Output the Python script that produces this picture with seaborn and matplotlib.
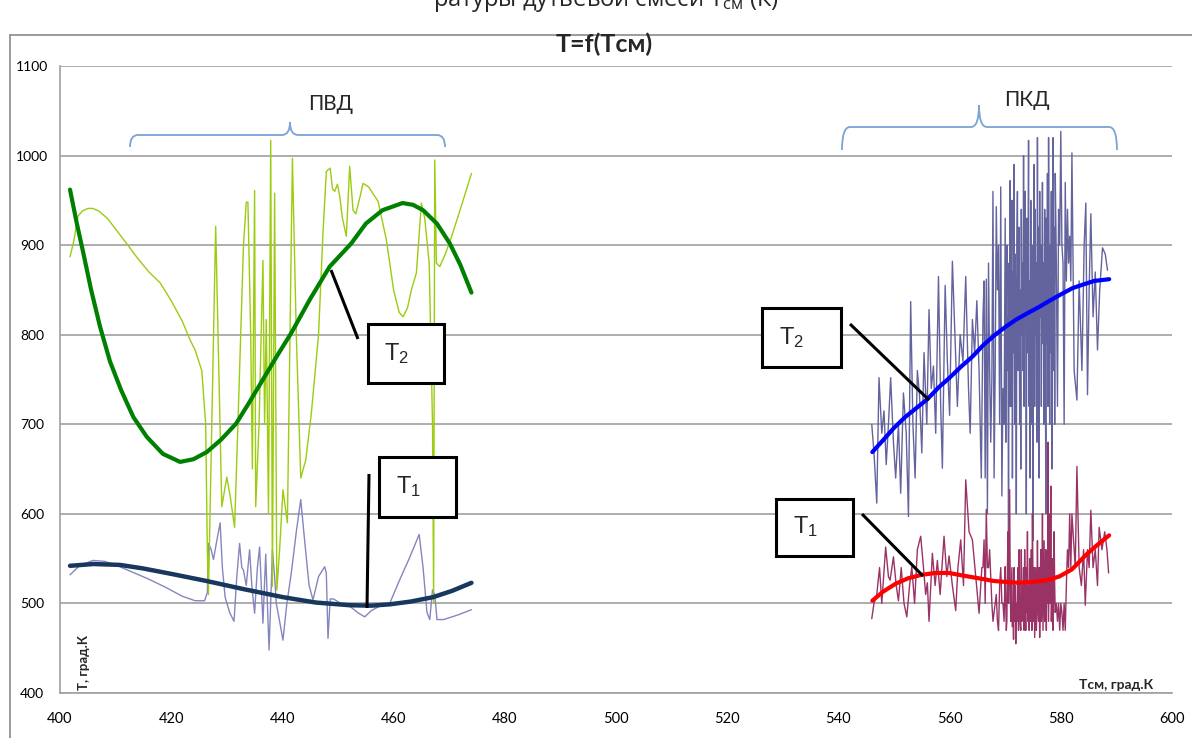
import numpy as np
import pandas as pd
import matplotlib
matplotlib.use("Agg")
import matplotlib.pyplot as plt
import seaborn as sns
from matplotlib.path import Path
from matplotlib.patches import PathPatch, Rectangle
from matplotlib.lines import Line2D

# ---------------- data ----------------
# ПВД, T2 raw (yellow-green)
pvd_t2_x = [401.8, 402.5, 403.2, 404.0, 405.0, 405.9, 407.0, 408.5, 410.0, 412.2, 414.0, 416.0, 418.0,
            420.0, 422.0, 423.4, 424.3, 425.5, 426.2, 426.5, 426.7, 427.3, 428.0, 428.6, 429.1, 430.0,
            430.6, 431.4, 432.0, 433.0, 433.5, 433.8, 434.3, 434.6, 435.0, 435.2, 435.8, 436.5, 436.8,
            437.1, 437.5, 437.9, 438.2, 438.6, 439.0, 439.5, 440.1, 440.9, 441.8, 442.5, 443.3, 444.2,
            445.2, 446.5, 447.3, 447.9, 448.2, 448.6, 449.0, 449.4, 449.9, 450.3, 450.8, 451.5, 452.1,
            452.7, 453.2, 454.0, 454.5, 455.5, 457.2, 458.7, 460.0, 461.0, 461.7, 462.5, 463.2, 464.1,
            465.0, 465.6, 466.4, 467.0, 467.2, 467.4, 467.7, 468.3, 469.3, 470.4, 472.0, 474.0]
pvd_t2_y = [887, 905, 932, 938, 941, 941, 938, 930, 918, 900, 885, 870, 858,
            838, 815, 794, 783, 760, 700, 560, 510, 700, 921, 750, 608, 641,
            620, 585, 700, 900, 948, 948, 800, 650, 961, 608, 700, 883, 700,
            817, 600, 1017, 519, 958, 515, 560, 627, 590, 997, 800, 640, 660,
            712, 800, 914, 982, 984, 986, 963, 960, 968, 955, 930, 910, 988,
            939, 935, 955, 969, 965, 949, 906, 850, 825, 820, 830, 850, 869,
            947, 930, 880, 700, 500, 995, 880, 876, 890, 909, 940, 980]

# ПВД, T1 raw (lavender)
pvd_t1_x = [401.8, 403.5, 405.9, 408.0, 410.0, 413.0, 416.0, 419.0, 422.0, 424.3, 426.0, 426.5, 426.7,
            427.2, 427.6, 428.2, 428.8, 429.2, 429.7, 430.5, 431.3, 431.8, 432.3, 432.7, 433.0, 433.5,
            434.1, 434.5, 435.0, 435.5, 435.9, 436.2, 436.5, 437.0, 437.3, 437.6, 438.0, 438.2, 438.6,
            438.9, 439.5, 440.1, 440.8, 441.6, 442.5, 443.3, 444.0, 444.8, 445.5, 446.5, 447.6, 447.9,
            448.2, 448.6, 449.2, 450.5, 452.1, 453.5, 454.8, 456.0, 457.5, 459.3, 461.0, 462.8, 464.6,
            465.3, 466.0, 466.5, 467.0, 467.4, 467.8, 469.0, 471.5, 474.0]
pvd_t1_y = [532, 542, 548, 547, 543, 535, 527, 518, 508, 503, 503, 512, 567,
            560, 549, 570, 590, 540, 507, 490, 480, 530, 567, 540, 537, 520,
            560, 520, 489, 540, 563, 520, 478, 555, 500, 448, 520, 560, 530,
            500, 480, 459, 500, 534, 580, 616, 570, 520, 504, 530, 541, 534,
            461, 505, 505, 500, 497, 490, 485, 492, 497, 500, 525, 550, 577,
            540, 490, 482, 515, 510, 482, 482, 487, 493]

# ПВД trends
pvd_t2_trend_x = [401.8, 403.0, 404.2, 405.6, 407.2, 409.0, 411.0, 413.2, 415.6, 418.5, 421.6, 424.0,
                  426.4, 429.0, 431.7, 434.0, 436.5, 439.0, 441.6, 445.0, 448.5, 452.4, 455.0, 458.0,
                  461.6, 463.5, 465.3, 467.8, 470.1, 472.0, 474.0]
pvd_t2_trend_y = [962, 925, 891, 850, 809, 770, 738, 708, 686, 667, 658, 661,
                  669, 683, 701, 724, 750, 776, 802, 840, 876, 902, 924, 939,
                  947, 945, 939, 924, 902, 878, 847]
pvd_t1_trend_x = [401.8, 406.0, 410.8, 415.0, 420.0, 426.4, 433.0, 440.1, 446.0, 452.1, 456.0, 459.3,
                  463.0, 467.1, 470.5, 474.0]
pvd_t1_trend_y = [542, 544, 543, 539, 533, 525, 516, 507, 501, 498, 497.5, 499,
                  502, 507, 514, 523]

# ПКД, T2 raw
pkd_t2_x = [546.0, 546.4, 546.9, 547.3, 547.8, 548.2, 548.6, 549.0, 549.4, 549.9, 550.3, 550.8, 551.2,
            551.7, 552.2, 552.6, 553.0, 553.4, 553.8, 554.2, 554.6, 555.0, 555.4, 555.9, 556.3, 556.7,
            557.1, 557.5, 558.0, 558.4, 558.7, 559.2, 559.6, 560.0, 560.5, 561.0, 561.4, 561.9, 562.4,
            562.9, 563.4, 563.7, 564.1, 564.5, 564.9, 565.3, 565.7,
            566.0, 566.2, 566.4, 566.6, 566.8, 567.0, 567.2, 567.4, 567.6, 567.8,
            568.0, 568.2, 568.4, 568.6, 568.8, 569.0, 569.2, 569.4, 569.6, 569.8,
            570.0, 570.1, 570.2, 570.3, 570.4, 570.5, 570.6, 570.7, 570.8, 570.9,
            571.0, 571.1, 571.2, 571.3, 571.4, 571.5, 571.6, 571.7, 571.8, 571.9,
            572.0, 572.1, 572.2, 572.3, 572.4, 572.5, 572.6, 572.7, 572.8, 572.9,
            573.0, 573.1, 573.2, 573.3, 573.4, 573.5, 573.6, 573.7, 573.8, 573.9,
            574.0, 574.1, 574.2, 574.3, 574.4, 574.5, 574.6, 574.7, 574.8, 574.9,
            575.0, 575.1, 575.2, 575.3, 575.4, 575.5, 575.6, 575.7, 575.8, 575.9,
            576.0, 576.1, 576.2, 576.3, 576.4, 576.5, 576.6, 576.7, 576.8, 576.9,
            577.0, 577.1, 577.2, 577.3, 577.4, 577.5, 577.6, 577.7, 577.8, 577.9,
            578.0, 578.1, 578.2, 578.3, 578.4, 578.5, 578.6, 578.7, 578.8, 578.9,
            579.0, 579.2, 579.4, 579.6, 579.8, 580.0, 580.2, 580.4, 580.6, 580.8,
            581.0, 581.2, 581.4, 581.6, 581.8,
            582.0, 582.4, 582.9, 583.3, 583.8, 584.2, 584.5, 584.8, 585.1, 585.4, 585.8,
            586.2, 586.6, 587.0, 587.5, 588.0, 588.4]
pkd_t2_y = [700, 668, 612, 752, 690, 715, 655, 700, 752, 680, 640, 700, 623,
            735, 690, 597, 837, 700, 640, 760, 731, 668, 780, 700, 828, 740,
            765, 690, 865, 720, 651, 855, 770, 710, 882, 790, 720, 800, 770,
            865, 740, 690, 817, 780, 838, 760, 640,
            820, 860, 640, 862, 600, 880, 760, 680, 750, 960,
            640, 760, 943, 850, 900, 700, 965, 620, 740, 700,
            930, 680, 820, 900, 760, 820, 560, 880, 720, 972,
            720, 860, 950, 640, 870, 780, 990, 700, 890, 810,
            600, 900, 960, 760, 850, 920, 700, 850, 650, 940,
            800, 880, 760, 1000, 720, 900, 960, 820, 600, 930,
            780, 880, 1017, 720, 860, 640, 950, 700, 900, 840,
            570, 880, 990, 720, 940, 800, 880, 680, 1020, 760,
            920, 640, 960, 820, 900, 720, 850, 970, 790, 880,
            700, 940, 860, 600, 930, 790, 980, 720, 1020, 840,
            700, 900, 780, 960, 650, 880, 1020, 760, 920, 700,
            980, 880, 720, 940, 900, 1027, 900, 880, 700, 970,
            860, 940, 880, 910, 860,
            1003, 760, 727, 860, 760, 900, 947, 733, 850, 935, 820,
            870, 783, 850, 897, 890, 872]

# ПКД, T1 raw
pkd_t1_x = [546.0, 546.4, 546.9, 547.4, 547.8, 548.5, 549.0, 549.3, 549.9, 550.4, 550.8, 551.3, 551.8,
            552.3, 552.8, 553.2, 553.7, 554.2, 554.8, 555.3, 555.7, 556.0, 556.3, 556.9, 557.4, 557.8,
            558.3, 559.0, 559.5, 559.9, 560.5, 561.1, 561.5, 562.0, 562.5, 562.9, 563.5, 564.1, 564.7,
            565.3, 565.8,
            566.0, 566.2, 566.4, 566.6, 566.8, 567.0, 567.2, 567.4, 567.6, 567.8,
            568.0, 568.2, 568.4, 568.6, 568.8, 569.0, 569.2, 569.4, 569.6, 569.8,
            570.0, 570.1, 570.2, 570.3, 570.4, 570.5, 570.6, 570.7, 570.8, 570.9,
            571.0, 571.1, 571.2, 571.3, 571.4, 571.5, 571.6, 571.7, 571.8, 571.9,
            572.0, 572.1, 572.2, 572.3, 572.4, 572.5, 572.6, 572.7, 572.8, 572.9,
            573.0, 573.1, 573.2, 573.3, 573.4, 573.5, 573.6, 573.7, 573.8, 573.9,
            574.0, 574.1, 574.2, 574.3, 574.4, 574.5, 574.6, 574.7, 574.8, 574.9,
            575.0, 575.1, 575.2, 575.3, 575.4, 575.5, 575.6, 575.7, 575.8, 575.9,
            576.0, 576.1, 576.2, 576.3, 576.4, 576.5, 576.6, 576.7, 576.8, 576.9,
            577.0, 577.1, 577.2, 577.3, 577.4, 577.5, 577.6, 577.7, 577.8, 577.9,
            578.0, 578.1, 578.2, 578.3, 578.4, 578.5, 578.6, 578.7, 578.8, 578.9,
            579.0, 579.2, 579.4, 579.6, 579.8, 580.0, 580.2, 580.4, 580.6, 580.8,
            581.0, 581.2, 581.4, 581.6, 581.8,
            582.0, 582.6, 582.9, 583.3, 583.7, 584.1, 584.4, 584.8, 585.1,
            585.4, 585.8, 586.2, 586.6, 586.9, 587.4, 587.9, 588.3, 588.6]
pkd_t1_y = [483, 500, 510, 540, 500, 563, 530, 526, 552, 520, 503, 540, 500,
            485, 520, 541, 500, 560, 575, 540, 510, 523, 480, 556, 520, 548,
            510, 575, 530, 553, 520, 492, 540, 571, 520, 638, 580, 571, 530,
            489, 540,
            540, 571, 500, 605, 540, 540, 560, 530, 500, 480,
            490, 500, 510, 480, 470, 520, 540, 500, 500, 480,
            541, 500, 470, 480, 540, 580, 500, 560, 627, 520,
            480, 510, 540, 474, 500, 460, 540, 480, 520, 455,
            500, 480, 520, 540, 470, 560, 500, 480, 470, 560,
            480, 520, 496, 540, 470, 560, 500, 470, 540, 490,
            580, 480, 520, 470, 550, 500, 480, 560, 470, 600,
            520, 480, 540, 462, 500, 540, 470, 490, 570, 500,
            480, 540, 462, 520, 560, 480, 500, 600, 470, 520,
            570, 480, 500, 560, 470, 520, 500, 680, 480, 540,
            600, 500, 631, 480, 520, 550, 470, 500, 580, 520,
            490, 500, 480, 500, 470, 500, 490, 470, 500, 470,
            520, 560, 540, 600, 540,
            600, 540, 653, 540, 520, 560, 498, 560, 540,
            604, 540, 560, 520, 585, 560, 580, 560, 534]

# ПКД trends
pkd_t2_trend_x = [546.1, 548.0, 550.0, 552.0, 554.0, 556.0, 558.0, 560.0, 562.0, 564.1, 566.0, 568.0,
                  570.1, 572.0, 574.0, 576.1, 578.0, 580.0, 582.1, 584.0, 586.0, 588.7]
pkd_t2_trend_y = [669, 682, 696, 708, 718, 728, 741, 752, 764, 775.5, 788, 799,
                  809, 817, 824, 831, 838, 845, 852, 856, 860, 862]
pkd_t1_trend_x = [546.1, 548.0, 550.3, 552.5, 555.0, 557.5, 559.9, 562.5, 565.3, 568.0, 570.1, 572.5,
                  574.9, 577.5, 579.7, 582.0, 584.5, 586.5, 588.7]
pkd_t1_trend_y = [503, 513, 522, 528, 532, 534, 534, 531, 528, 525, 524, 523,
                  524, 526, 530, 538, 554, 565, 576]

x_ticks = [400, 420, 440, 460, 480, 500, 520, 540, 560, 580, 600]
y_ticks = [400, 500, 600, 700, 800, 900, 1000, 1100]

# ---------------- style ----------------
sns.set_theme(style="white")
plt.rcParams['font.family'] = ['Lato', 'DejaVu Sans']
plt.rcParams['mathtext.default'] = 'regular'

W, H = 1192, 738
fig = plt.figure(figsize=(W / 100, H / 100), dpi=100)
L, R, T, B = 60, 1172, 66, 693
ax = fig.add_axes([L / W, 1 - B / H, (R - L) / W, (B - T) / H])

XMIN, XMAX, YMIN, YMAX = 400, 600, 400, 1100


def px2x(px):
    return XMIN + (px - L) / (R - L) * (XMAX - XMIN)


def px2y(py):
    return YMAX - (py - T) / (B - T) * (YMAX - YMIN)


def draw(xs, ys, color, lw, z):
    df = pd.DataFrame({"x": xs, "y": ys})
    sns.lineplot(data=df, x="x", y="y", sort=False, estimator=None, color=color,
                 linewidth=lw, ax=ax, legend=False, zorder=z)


draw(pvd_t1_x, pvd_t1_y, "#8585c0", 1.0, 2)
draw(pvd_t2_x, pvd_t2_y, "#9ccc10", 1.0, 2)
draw(pkd_t2_x, pkd_t2_y, "#63639e", 1.0, 2)
draw(pkd_t1_x, pkd_t1_y, "#993366", 1.0, 2)
draw(pvd_t2_trend_x, pvd_t2_trend_y, "#008000", 3.0, 3)
draw(pvd_t1_trend_x, pvd_t1_trend_y, "#17375e", 3.2, 3)
draw(pkd_t2_trend_x, pkd_t2_trend_y, "#0000ff", 3.0, 3)
draw(pkd_t1_trend_x, pkd_t1_trend_y, "#ff0000", 3.0, 3)

ax.set_xlim(XMIN, XMAX)
ax.set_ylim(YMIN, YMAX)
ax.set_xticks(x_ticks)
ax.set_yticks(y_ticks)
ax.set_xticklabels([str(v) for v in x_ticks], fontsize=10.5)
ax.set_yticklabels([str(v) for v in y_ticks], fontsize=10, ha='center')
ax.tick_params(axis='x', length=0, pad=14, colors='#000000')
ax.tick_params(axis='y', length=0, pad=20, colors='#000000')
ax.set_xlabel("")
ax.set_ylabel("")
ax.grid(axis='y', color='#a0a0a0', linewidth=1.2)
ax.grid(axis='x', visible=False)
for s in ['top', 'right']:
    ax.spines[s].set_visible(False)
for s in ['left', 'bottom']:
    ax.spines[s].set_color('#a0a0a0')
    ax.spines[s].set_linewidth(1.2)

# axis labels inside the plot
ax.text(px2x(84), px2y(662), "Т, град.К", rotation=90, fontsize=9.5, fontweight='bold',
        ha='center', va='center')
ax.text(px2x(1116), px2y(685), "Тсм, град.К", fontsize=10, fontweight='bold',
        ha='center', va='center')

# title and cut header
fig.text(604 / W, 1 - 44 / H, "T=f(Tсм)", fontsize=18, fontweight='bold', ha='center', va='center')
fig.text(606 / W, 1 - 6 / H, "ратуры дутьевой смеси T$_{см}$ (К)", fontsize=17,
         ha='center', va='baseline', family=['Open Sans', 'DejaVu Sans'])

# outer chart frame
fig.add_artist(Line2D([10 / W, 10 / W], [0, 1 - 35 / H], color='#8a8a8a', lw=1.2,
                      transform=fig.transFigure))
fig.add_artist(Line2D([10 / W, 1], [1 - 35 / H, 1 - 35 / H], color='#8a8a8a', lw=1.2,
                      transform=fig.transFigure))


# braces
def brace(x0p, x1p, xtp, yendp, ymidp, ytipp):
    x0, x1, xt = px2x(x0p), px2x(x1p), px2x(xtp)
    ye, ym, yt = px2y(yendp), px2y(ymidp), px2y(ytipp)
    d = px2x(L + 8) - XMIN
    verts = [(x0, ye), (x0, ym), (x0 + d, ym), (xt - d, ym), (xt, ym), (xt, yt),
             (xt, ym), (xt + d, ym), (x1 - d, ym), (x1, ym), (x1, ye)]
    codes = [Path.MOVETO, Path.CURVE3, Path.CURVE3, Path.LINETO, Path.CURVE3, Path.CURVE3,
             Path.CURVE3, Path.CURVE3, Path.LINETO, Path.CURVE3, Path.CURVE3]
    ax.add_patch(PathPatch(Path(verts, codes), fill=False, edgecolor='#7aa3d6', lw=1.3,
                           zorder=4, clip_on=False))


brace(130, 445, 290, 147, 135, 122)
brace(842, 1117, 979, 150, 127, 105)
ax.text(px2x(331), px2y(104), "ПВД", fontsize=15, ha='center', va='center')
ax.text(px2x(1027), px2y(100), "ПКД", fontsize=15, ha='center', va='center')


# callout boxes
def callout(bx0, by0, bx1, by1, label, tx, ty, lx0, ly0, lx1, ly1):
    ax.plot([px2x(lx0), px2x(lx1)], [px2y(ly0), px2y(ly1)], color='black', lw=2.2,
            zorder=5, solid_capstyle='butt')
    ax.add_patch(Rectangle((px2x(bx0), px2y(by1)), px2x(bx1) - px2x(bx0),
                           px2y(by0) - px2y(by1), facecolor='white', edgecolor='black',
                           lw=2.2, zorder=6))
    ax.text(px2x(tx), px2y(ty), label, fontsize=17, ha='center', va='center', zorder=7,
            family=['Liberation Sans', 'DejaVu Sans'])


callout(368, 324, 444, 383, "T$_2$", 397, 354, 331, 270, 358, 339)
callout(379, 457, 456, 517, "T$_1$", 409, 487, 369, 474, 367, 608)
callout(762, 308, 841, 367, "T$_2$", 792, 338, 850, 324, 929, 400)
callout(776, 499, 853, 556, "T$_1$", 806, 527, 862, 514, 923, 576)

fig.savefig("out.png", dpi=100, facecolor='white')
